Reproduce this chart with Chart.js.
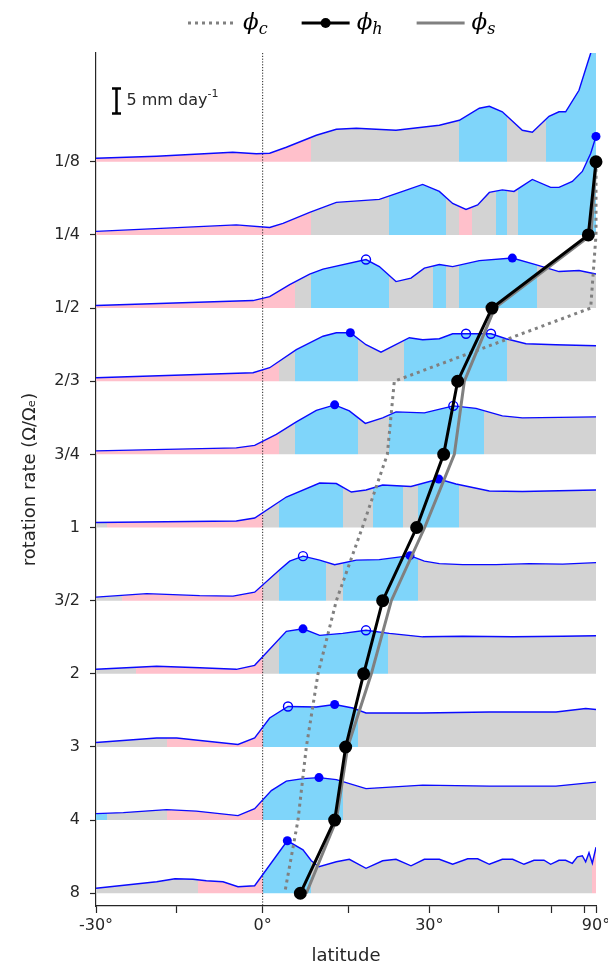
<!DOCTYPE html>
<html>
<head>
<meta charset="utf-8">
<script src="https://cdn.jsdelivr.net/npm/chart.js@4.4.1/dist/chart.umd.min.js"></script>
<style>
  html, body { margin: 0; padding: 0; background: #fff; }
  canvas { display: block; }
</style>
</head>
<body>
<canvas id="chartPrecip" width="608" height="967"></canvas>
<script>
// rotation rates, one row each (top to bottom)
var rates = ['1/8', '1/4', '1/2', '2/3', '3/4', '1', '3/2', '2', '3', '4', '8'];

// x axis is sin(latitude); ticks every 15 degrees
var latTicks = [-30, -15, 0, 15, 30, 45, 60, 75, 90];
var latLabelled = [-30, 0, 30, 90];

// zonal mean precipitation per row: sin(lat) and mm/day
var precipSin = [
  [-0.5, -0.318, -0.090, -0.019, 0.021, 0.071, 0.161, 0.221, 0.281, 0.400, 0.530, 0.590, 0.650, 0.680, 0.719, 0.779, 0.809, 0.859, 0.889, 0.909, 0.949, 0.974, 0.984, 1.0],
  [-0.5, -0.079, 0.021, 0.061, 0.141, 0.221, 0.350, 0.420, 0.480, 0.530, 0.570, 0.610, 0.645, 0.680, 0.719, 0.754, 0.809, 0.864, 0.889, 0.929, 0.959, 0.984, 1.0],
  [-0.5, -0.029, 0.021, 0.081, 0.141, 0.181, 0.310, 0.350, 0.400, 0.445, 0.485, 0.530, 0.570, 0.650, 0.749, 0.819, 0.889, 0.949, 1.0],
  [-0.5, -0.029, 0.021, 0.101, 0.181, 0.221, 0.263, 0.310, 0.355, 0.440, 0.480, 0.530, 0.570, 0.610, 0.685, 0.730, 0.790, 0.879, 1.0],
  [-0.5, -0.079, -0.024, 0.041, 0.101, 0.161, 0.216, 0.260, 0.308, 0.360, 0.400, 0.485, 0.572, 0.640, 0.719, 0.779, 1.0],
  [-0.5, -0.079, -0.024, 0.071, 0.171, 0.221, 0.266, 0.310, 0.360, 0.445, 0.528, 0.580, 0.680, 0.779, 1.0],
  [-0.5, -0.348, -0.189, -0.089, -0.024, 0.051, 0.081, 0.121, 0.171, 0.216, 0.281, 0.350, 0.442, 0.485, 0.530, 0.600, 0.700, 0.800, 0.900, 1.0],
  [-0.5, -0.318, -0.189, -0.079, -0.024, 0.071, 0.121, 0.171, 0.240, 0.310, 0.380, 0.480, 0.600, 0.750, 0.900, 1.0],
  [-0.5, -0.318, -0.258, -0.074, -0.024, 0.021, 0.076, 0.161, 0.216, 0.270, 0.310, 0.480, 0.680, 0.880, 0.969, 1.0],
  [-0.5, -0.418, -0.288, -0.199, -0.074, -0.024, 0.026, 0.071, 0.121, 0.169, 0.221, 0.310, 0.480, 0.680, 0.880, 1.0],
  [-0.5, -0.318, -0.263, -0.209, -0.169, -0.119, -0.074, -0.024, 0.074, 0.121, 0.146, 0.169, 0.221, 0.260, 0.310, 0.360, 0.400, 0.445, 0.485, 0.530,
   0.570, 0.615, 0.645, 0.680, 0.719, 0.750, 0.784, 0.814, 0.844, 0.864, 0.889, 0.909, 0.929, 0.944, 0.959, 0.969, 0.979, 0.989, 1.0]
];
var precipMm = [
  [0.7, 1.1, 1.9, 1.6, 1.7, 2.9, 5.3, 6.5, 6.7, 6.3, 7.3, 8.3, 10.7, 11.1, 10.0, 6.3, 5.9, 9.1, 10.0, 10.0, 14.3, 19.6, 21.7, 30],
  [0.7, 2.0, 1.5, 2.3, 4.5, 6.5, 7.1, 8.7, 10.1, 8.7, 6.3, 5.1, 6.0, 8.5, 9.0, 8.7, 11.1, 9.5, 9.5, 10.7, 12.7, 16.3, 19.7],
  [0.5, 1.5, 2.3, 4.7, 6.8, 7.8, 9.7, 8.3, 5.3, 6.0, 8.0, 8.7, 8.3, 9.5, 10.0, 8.7, 7.3, 7.5, 6.8],
  [0.7, 1.7, 2.7, 6.3, 9.0, 9.7, 9.7, 7.3, 5.8, 8.7, 8.3, 8.5, 9.5, 9.5, 9.5, 8.5, 7.5, 7.3, 7.1],
  [0.7, 1.3, 1.8, 4.0, 6.5, 8.8, 9.9, 8.7, 6.2, 7.3, 8.5, 8.3, 9.7, 9.2, 7.7, 7.3, 7.5],
  [1.0, 1.3, 1.9, 6.1, 8.9, 8.8, 7.1, 7.5, 8.5, 8.2, 9.7, 8.7, 7.3, 7.2, 7.5],
  [0.7, 1.4, 1.0, 0.9, 1.7, 6.2, 7.9, 8.9, 8.1, 7.2, 8.1, 8.2, 9.0, 7.9, 7.4, 7.2, 7.2, 7.4, 7.3, 7.6],
  [0.9, 1.5, 1.2, 0.9, 1.7, 8.5, 9.0, 7.7, 8.1, 8.7, 8.1, 7.4, 7.5, 7.4, 7.5, 7.6],
  [0.9, 1.8, 1.8, 0.5, 1.8, 5.8, 8.1, 8.0, 8.5, 7.8, 6.8, 6.8, 7.0, 7.0, 7.7, 7.5],
  [1.3, 1.5, 2.1, 1.8, 0.9, 2.3, 5.9, 7.8, 8.3, 8.5, 8.1, 6.3, 7.0, 6.8, 6.8, 7.6],
  [1.0, 2.3, 2.9, 2.8, 2.5, 2.3, 1.3, 1.5, 10.5, 8.7, 6.5, 5.3, 6.3, 6.8, 5.0, 6.5, 6.8, 5.5, 6.8, 6.8,
   5.8, 6.9, 6.9, 5.8, 6.8, 6.8, 5.8, 6.6, 6.6, 5.8, 6.6, 6.6, 6.0, 7.3, 7.5, 6.3, 8.1, 6.0, 9.2]
];

// shaded regime bands under each curve: edges in sin(lat), kind p/g/b
var regionEdges = [
  [-0.5, 0.146, 0.590, 0.733, 0.849, 1.0],
  [-0.5, 0.146, 0.378, 0.550, 0.590, 0.628, 0.701, 0.733, 0.766, 1.0],
  [-0.5, 0.098, 0.144, 0.378, 0.510, 0.550, 0.590, 0.824, 1.0],
  [-0.5, 0.048, 0.096, 0.285, 0.423, 0.733, 1.0],
  [-0.5, 0.048, 0.096, 0.285, 0.378, 0.665, 1.0],
  [-0.5, -0.468, 0, 0.048, 0.240, 0.332, 0.422, 0.467, 0.590, 1.0],
  [-0.5, -0.423, 0, 0.048, 0.191, 0.240, 0.467, 1.0],
  [-0.5, -0.380, 0, 0.048, 0.377, 1.0],
  [-0.5, -0.287, 0, 0.285, 1.0],
  [-0.5, -0.468, -0.287, 0, 0.240, 1.0],
  [-0.5, -0.194, 0, 0.146, 0.989, 1.0]
];
var regionKinds = [
  ['p', 'g', 'b', 'g', 'b'],
  ['p', 'g', 'b', 'g', 'p', 'g', 'b', 'g', 'b'],
  ['p', 'g', 'b', 'g', 'b', 'g', 'b', 'g'],
  ['p', 'g', 'b', 'g', 'b', 'g'],
  ['p', 'g', 'b', 'g', 'b', 'g'],
  ['g', 'p', 'g', 'b', 'g', 'b', 'g', 'b', 'g'],
  ['g', 'p', 'g', 'b', 'g', 'b', 'g'],
  ['g', 'p', 'g', 'b', 'g'],
  ['g', 'p', 'b', 'g'],
  ['b', 'g', 'p', 'b', 'g'],
  ['g', 'p', 'b', 'g', 'p']
];

// precipitation maxima markers
var solidRow = [1, 2, 3, 4, 5, 6, 7, 8, 9, 10];
var solidSin = [1.0, 0.749, 0.263, 0.216, 0.528, 0.442, 0.121, 0.216, 0.169, 0.074];
var solidMm = [19.7, 10.0, 9.7, 9.9, 9.7, 9.0, 9.0, 8.5, 8.5, 10.5];
var openRow = [2, 3, 3, 4, 6, 7, 8];
var openSin = [0.310, 0.610, 0.685, 0.572, 0.121, 0.310, 0.076];
var openMm = [9.7, 9.5, 9.5, 9.7, 8.9, 8.7, 8.1];

// phi_c, phi_h, phi_s in sin(lat), one per rotation rate
var phiC = [1.0, 1.0, 0.984, 0.395, 0.374, 0.299, 0.221, 0.166, 0.131, 0.106, 0.066];
var phiH = [1.0, 0.977, 0.688, 0.585, 0.543, 0.462, 0.360, 0.303, 0.249, 0.216, 0.113];
var phiS = [1.0, 0.985, 0.696, 0.605, 0.575, 0.486, 0.386, 0.326, 0.255, 0.221, 0.131];

var mmPerRow = 14.63;   // row spacing in mm/day
var fillColors = { p: '#ffc0cb', g: '#d3d3d3', b: '#7fd5fa' };
var ink = '#262626';

function toRow(r, mm) { return r - mm / mmPerRow; }

var regionFill = {
  id: 'regionFill',
  beforeDatasetsDraw: function (chart) {
    var ctx = chart.ctx, a = chart.chartArea;
    var xs = chart.scales.x, ys = chart.scales.y;
    ctx.save();
    ctx.beginPath();
    ctx.rect(a.left, a.top, a.right - a.left, a.bottom - a.top);
    ctx.clip();
    precipSin.forEach(function (sins, r) {
      var base = ys.getPixelForValue(r);
      regionKinds[r].forEach(function (k, j) {
        var x0 = Math.round(xs.getPixelForValue(regionEdges[r][j]));
        var x1 = Math.round(xs.getPixelForValue(regionEdges[r][j + 1]));
        ctx.save();
        ctx.beginPath();
        ctx.rect(x0, a.top, x1 - x0, a.bottom - a.top);
        ctx.clip();
        ctx.beginPath();
        ctx.moveTo(xs.getPixelForValue(sins[0]), base);
        sins.forEach(function (s, i) {
          ctx.lineTo(xs.getPixelForValue(s), ys.getPixelForValue(toRow(r, precipMm[r][i])));
        });
        ctx.lineTo(xs.getPixelForValue(sins[sins.length - 1]), base);
        ctx.closePath();
        ctx.fillStyle = fillColors[k];
        ctx.fill();
        ctx.restore();
      });
    });
    // equator
    var xe = xs.getPixelForValue(0);
    ctx.beginPath();
    ctx.setLineDash([1.2, 1.6]);
    ctx.lineWidth = 1;
    ctx.strokeStyle = '#222';
    ctx.moveTo(xe, a.top);
    ctx.lineTo(xe, a.bottom);
    ctx.stroke();
    ctx.restore();
  }
};

var extras = {
  id: 'extras',
  afterDraw: function (chart) {
    var ctx = chart.ctx;
    var xs = chart.scales.x, ys = chart.scales.y;
    ctx.save();
    // 5 mm/day scale bar
    var bx = Math.round(xs.getPixelForValue(-0.44)) + 0.5;
    var by0 = ys.getPixelForValue(-1.0);
    var by1 = ys.getPixelForValue(-1.0 + 5 / mmPerRow);
    ctx.strokeStyle = '#000';
    ctx.lineWidth = 2.5;
    ctx.beginPath();
    ctx.moveTo(bx, by0); ctx.lineTo(bx, by1);
    ctx.moveTo(bx - 4.5, by0); ctx.lineTo(bx + 4.5, by0);
    ctx.moveTo(bx - 4.5, by1); ctx.lineTo(bx + 4.5, by1);
    ctx.stroke();
    ctx.fillStyle = ink;
    ctx.textBaseline = 'middle';
    ctx.font = '16px "DejaVu Sans"';
    var ty = (by0 + by1) / 2;
    ctx.fillText('5 mm day', bx + 10, ty);
    var w = ctx.measureText('5 mm day').width;
    ctx.font = '11px "DejaVu Sans"';
    ctx.fillText('-1', bx + 10 + w, ty - 7);

    // legend
    var x = 188, ly = 23;
    chart.data.datasets.forEach(function (ds) {
      if (!ds.legendSub) return;
      ctx.save();
      ctx.strokeStyle = ds.borderColor;
      ctx.lineWidth = ds.borderWidth;
      ctx.setLineDash(ds.borderDash || []);
      ctx.beginPath();
      ctx.moveTo(x, ly); ctx.lineTo(x + 48, ly);
      ctx.stroke();
      if (ds.pointRadius > 0) {
        ctx.fillStyle = ds.pointBackgroundColor;
        ctx.beginPath();
        ctx.arc(x + 24, ly, ds.pointRadius, 0, Math.PI * 2);
        ctx.fill();
      }
      ctx.restore();
      ctx.fillStyle = '#000';
      ctx.textBaseline = 'alphabetic';
      ctx.font = 'italic 23px "DejaVu Serif"';
      var tx = x + 55;
      ctx.fillText('\u03d5', tx, 29);
      var pw = ctx.measureText('\u03d5').width;
      ctx.font = 'italic 16px "DejaVu Serif"';
      ctx.fillText(ds.legendSub, tx + pw, 34);
      var sw = ctx.measureText(ds.legendSub).width;
      x = tx + pw + sw + 34;
    });
    ctx.restore();
  }
};

var datasets = [];
precipSin.forEach(function (sins, r) {
  datasets.push({
    label: 'precip ' + rates[r],
    data: sins.map(function (s, i) { return { x: s, y: toRow(r, precipMm[r][i]) }; }),
    borderColor: '#0a0aff',
    borderWidth: 1.4,
    pointRadius: 0,
    fill: false,
    order: 4
  });
});
datasets.push({
  label: 'max',
  data: solidRow.map(function (r, i) { return { x: solidSin[i], y: toRow(r, solidMm[i]) }; }),
  showLine: false,
  pointRadius: 4.5,
  pointBackgroundColor: '#0000ff',
  pointBorderColor: '#0000ff',
  pointBorderWidth: 0,
  order: 3,
  clip: 8
});
datasets.push({
  label: 'secondary max',
  data: openRow.map(function (r, i) { return { x: openSin[i], y: toRow(r, openMm[i]) }; }),
  showLine: false,
  pointRadius: 4.5,
  pointBackgroundColor: 'rgba(0,0,0,0)',
  pointBorderColor: '#0000ff',
  pointBorderWidth: 1.4,
  order: 3,
  clip: 8
});
datasets.push({
  label: 'phi_c',
  legendSub: 'c',
  data: phiC.map(function (s, r) { return { x: s, y: r }; }),
  borderColor: '#808080',
  borderWidth: 3,
  borderDash: [3, 4],
  borderCapStyle: 'butt',
  pointRadius: 0,
  order: 2,
  clip: 8
});
datasets.push({
  label: 'phi_h',
  legendSub: 'h',
  data: phiH.map(function (s, r) { return { x: s, y: r }; }),
  borderColor: '#000000',
  borderWidth: 3,
  pointRadius: 5,
  pointBackgroundColor: '#000000',
  pointBorderColor: '#000000',
  order: 0,
  clip: 8
});
datasets.push({
  label: 'phi_s',
  legendSub: 's',
  data: phiS.map(function (s, r) { return { x: s, y: r }; }),
  borderColor: '#808080',
  borderWidth: 3,
  pointRadius: 0,
  order: 1,
  clip: 8
});
// legend order: c, h, s
datasets.sort(function (a, b) {
  var ka = a.legendSub ? 'chs'.indexOf(a.legendSub) : -1;
  var kb = b.legendSub ? 'chs'.indexOf(b.legendSub) : -1;
  return ka - kb;
});

var tickFont = { family: 'DejaVu Sans', size: 16 };

new Chart(document.getElementById('chartPrecip'), {
  type: 'line',
  data: { datasets: datasets },
  options: {
    responsive: false,
    animation: false,
    events: [],
    devicePixelRatio: 1,
    layout: { padding: { top: 53, right: 12, left: 0, bottom: 0 } },
    elements: { line: { tension: 0 } },
    plugins: {
      legend: { display: false },
      tooltip: { enabled: false }
    },
    scales: {
      x: {
        type: 'linear',
        min: -0.5,
        max: 1.0,
        afterBuildTicks: function (scale) {
          scale.ticks = latTicks.map(function (d) { return { value: Math.sin(d * Math.PI / 180) }; });
        },
        afterFit: function (scale) {
          scale.height = 61;
          scale.paddingLeft = 0;
          scale.paddingRight = 0;
        },
        ticks: {
          autoSkip: false,
          maxRotation: 0,
          padding: 3,
          color: ink,
          font: tickFont,
          callback: function (v) {
            var d = Math.round(Math.asin(Math.max(-1, Math.min(1, v))) * 180 / Math.PI);
            return latLabelled.indexOf(d) >= 0 ? d + '\u00b0' : '';
          }
        },
        grid: { drawOnChartArea: false, tickLength: 7, color: ink, tickWidth: 1.2 },
        border: { display: true, color: ink, width: 1.2 },
        title: { display: true, text: 'latitude', color: ink, font: { family: 'DejaVu Sans', size: 18 }, padding: { top: 0, bottom: 0 } }
      },
      y: {
        type: 'linear',
        reverse: true,
        min: -1.487,
        max: 10.174,
        afterBuildTicks: function (scale) {
          scale.ticks = rates.map(function (_, i) { return { value: i }; });
        },
        afterFit: function (scale) {
          scale.width = 96;
          scale.paddingTop = 0;
          scale.paddingBottom = 0;
        },
        ticks: {
          autoSkip: false,
          padding: 10,
          color: ink,
          font: tickFont,
          callback: function (v) { return rates[Math.round(v)]; }
        },
        grid: { drawOnChartArea: false, tickLength: 6, color: ink, tickWidth: 1.2 },
        border: { display: true, color: ink, width: 1.2 },
        title: { display: true, text: 'rotation rate (\u03a9/\u03a9\u2091)', color: ink, font: { family: 'DejaVu Sans', size: 18 }, padding: { top: 20, bottom: 0 } }
      }
    }
  },
  plugins: [regionFill, extras]
});
</script>
</body>
</html>
